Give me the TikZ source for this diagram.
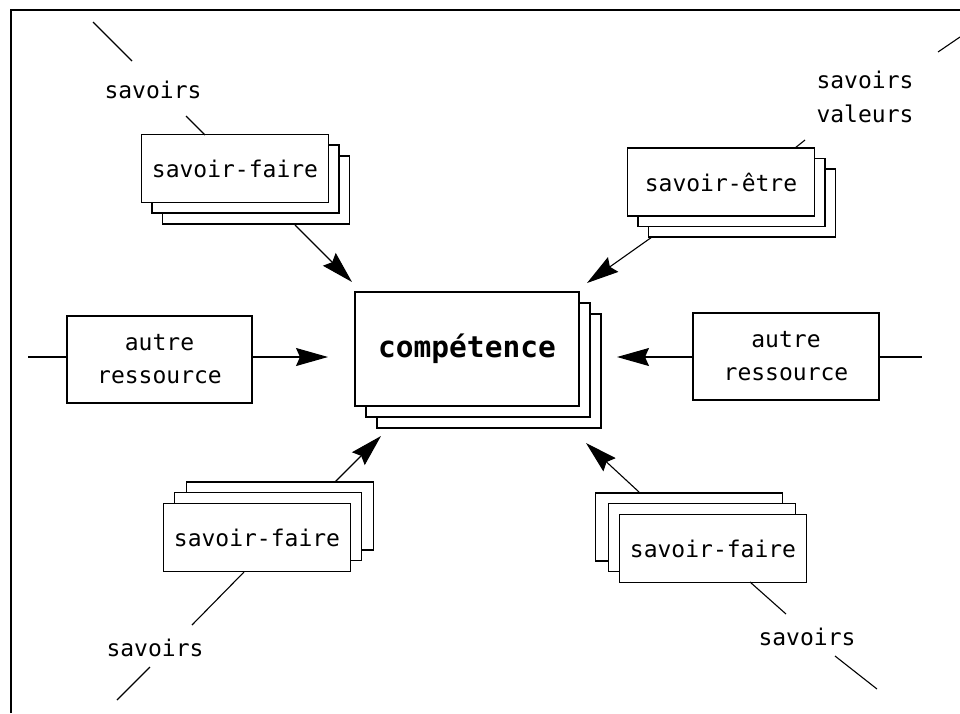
\documentclass[tikz,border=0pt]{standalone}
\usepackage{fontspec}
\setmonofont{DejaVu Sans Mono}
\usetikzlibrary{arrows.meta}
\tikzset{
  card/.style={draw, line width=1.5pt, fill=white, inner sep=0pt, font=\ttfamily\fontsize{23}{33}\selectfont},
  small/.style={card, minimum width=187pt, minimum height=68pt},
  lab/.style={inner sep=1pt, font=\ttfamily\fontsize{23}{34}\selectfont, align=center},
  wire/.style={line width=1.1pt},
  arr/.style={line width=1.1pt, -{Stealth[length=32pt,width=18pt,inset=4pt]}}
}
\begin{document}
\begin{tikzpicture}[x=1pt,y=-1pt]
\useasboundingbox (0,0) rectangle (960,713);
\fill[white] (0,0) rectangle (960,713);
% frame
\coordinate (fa) at (11,713);
\coordinate (fb) at (11,10);
\coordinate (fc) at (960,10);
\draw[line width=1.6pt] (fa) -- (fb) -- (fc);

% central competence stack
\node[card, minimum width=224pt, minimum height=114pt] (c3) at (489,371) {};
\node[card, minimum width=224pt, minimum height=114pt] (c2) at (478,360) {};
\node[card, minimum width=224pt, minimum height=114pt, font=\ttfamily\bfseries\fontsize{29.5}{32}\selectfont] (c1) at (467,349) {compétence};

% top-left savoir-faire
\node[small] (a3) at (256,190) {};
\node[small] (a2) at (245.5,179) {};
\node[small] (a1) at (235,168.5) {savoir-faire};
\node[lab] (sa) at (153,90) {savoirs};
\coordinate (a0) at (93,22);
\coordinate (a0b) at (132,61);
\coordinate (a0c) at (186,116);
\coordinate (a0d) at (205,135);
\draw[wire] (a0) -- (a0b);
\draw[wire] (a0c) -- (a0d);
\coordinate (ae1) at (295,225);
\coordinate (ae2) at (352,282);
\draw[arr] (ae1) -- (ae2);

% top-right savoir-etre
\node[small] (b3) at (742,203) {};
\node[small] (b2) at (731.5,192.5) {};
\node[small] (b1) at (721,182) {savoir-être};
\node[lab] (sb) at (865,97) {savoirs\\valeurs};
\coordinate (b0) at (960,37);
\coordinate (b0b) at (938,52);
\coordinate (b0c) at (805,140);
\coordinate (b0d) at (795,148);
\draw[wire] (b0) -- (b0b);
\draw[wire] (b0c) -- (b0d);
\coordinate (be1) at (652,237);
\coordinate (be2) at (587,283);
\draw[arr] (be1) -- (be2);

% left autre ressource
\node[card, minimum width=185pt, minimum height=87pt, align=center] (l1) at (159.5,359.5) {autre\\ressource};
\coordinate (l0) at (28,357);
\draw[wire] (l0) -- (l1.west |- l0);
\coordinate (le) at (328,357);
\draw[arr] (l1.east |- le) -- (le);

% right autre ressource
\node[card, minimum width=186pt, minimum height=87pt, align=center] (r1) at (786,356.5) {autre\\ressource};
\coordinate (r0) at (922,357);
\draw[wire] (r1.east |- r0) -- (r0);
\coordinate (re) at (617,357);
\draw[arr] (r1.west |- re) -- (re);

% bottom-left savoir-faire
\node[small] (d3) at (280,516) {};
\node[small] (d2) at (268,526.5) {};
\node[small] (d1) at (257,537.5) {savoir-faire};
\node[lab] (sd) at (155,648) {savoirs};
\coordinate (d0a) at (244,572);
\coordinate (d0b) at (192,625);
\coordinate (d0c) at (150,667);
\coordinate (d0d) at (117,700);
\draw[wire] (d0a) -- (d0b);
\draw[wire] (d0c) -- (d0d);
\coordinate (de1) at (335,482);
\coordinate (de2) at (381,436);
\draw[arr] (de1) -- (de2);

% bottom-right savoir-faire
\node[small] (e3) at (689,527) {};
\node[small] (e2) at (702,537.5) {};
\node[small] (e1) at (713,548.5) {savoir-faire};
\node[lab] (se) at (807,637) {savoirs};
\coordinate (e0a) at (750,582);
\coordinate (e0b) at (786,614);
\coordinate (e0c) at (835,656);
\coordinate (e0d) at (877,689);
\draw[wire] (e0a) -- (e0b);
\draw[wire] (e0c) -- (e0d);
\coordinate (ee1) at (639,492);
\coordinate (ee2) at (586,443);
\draw[arr] (ee1) -- (ee2);
\end{tikzpicture}
\end{document}
